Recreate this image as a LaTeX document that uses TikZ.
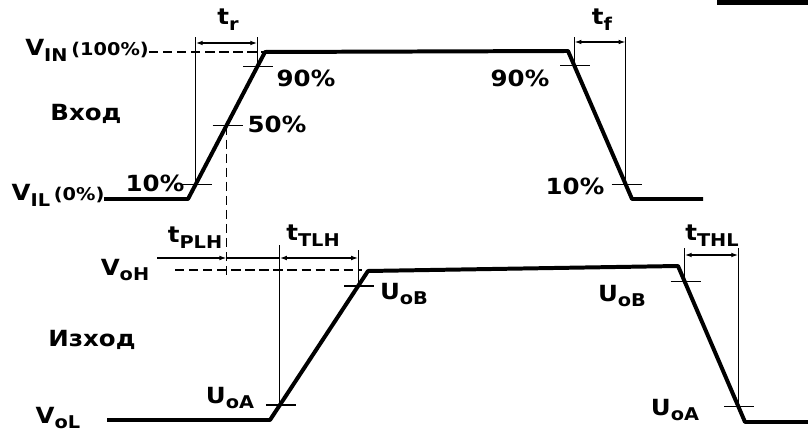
\documentclass[tikz,border=0pt]{standalone}
\usepackage{fontspec}
\setmainfont[FakeStretch=1.1]{DejaVu Sans}
\newfontfamily\bgfont[Script=Cyrillic,Language=Bulgarian,FakeStretch=1.1]{DejaVu Sans}
\usetikzlibrary{arrows.meta,calc}
\tikzset{
  wave/.style={line width=3.4pt,line join=round},
  thinline/.style={line width=1.1pt},
  dashline/.style={line width=1.1pt,dash pattern=on 8pt off 4pt},
  dimarrow/.style={line width=1.1pt,{Latex[length=6pt,width=4pt]}-{Latex[length=6pt,width=4pt]}},
  lbl/.style={font=\fontsize{19}{21}\selectfont\bfseries,inner sep=0pt}
}
\newcommand{\leveltick}[1]{\draw[thinline] ($(#1)+(-14,0)$) -- ($(#1)+(16,0)$);}
\newcommand{\lowsub}[1]{\raisebox{-5pt}{\fontsize{15}{15}\selectfont #1}}

\begin{document}
\begin{tikzpicture}[x=0.03cm,y=-0.03cm]
\useasboundingbox (0,0) rectangle (808,433);
\fill (717,0) rectangle (808,5);
% input pulse
\coordinate (i0) at (104,199);
\coordinate (i1) at (188,199);
\coordinate (i2) at (265,52);
\coordinate (i3) at (568,51);
\coordinate (i4) at (632,199);
\coordinate (i5) at (703,199);
\draw[wave] (i0) -- (i1) -- (i2) -- (i3) -- (i4) -- (i5);
\coordinate (in10) at ($(i1)!0.1!(i2)$);
\coordinate (in50) at ($(i1)!0.5!(i2)$);
\coordinate (in90) at ($(i1)!0.9!(i2)$);
\coordinate (fa90) at ($(i3)!0.1!(i4)$);
\coordinate (fa10) at ($(i3)!0.9!(i4)$);
\foreach \p in {in10,in50,in90,fa90,fa10} {\leveltick{\p}}
% output pulse
\coordinate (o0) at (107,420);
\coordinate (o1) at (270,420);
\coordinate (o2) at (368,271);
\coordinate (o3) at (678,266);
\coordinate (o4) at (745,422);
\coordinate (o5) at (808,422);
\draw[wave] (o0) -- (o1) -- (o2) -- (o3) -- (o4) -- (o5);
\coordinate (oA) at ($(o1)!0.1!(o2)$);
\coordinate (oB) at ($(o1)!0.9!(o2)$);
\coordinate (fB) at ($(o3)!0.1!(o4)$);
\coordinate (fA) at ($(o3)!0.9!(o4)$);
\foreach \p in {oA,oB,fB,fA} {\leveltick{\p}}
% level labels
\node[lbl] (vin) at (87,50) {V\lowsub{IN}\,{\fontsize{15}{15}\selectfont(100\%)}};
\node[lbl] (vil) at (58,195) {V\lowsub{IL}\,{\fontsize{15}{15}\selectfont(0\%)}};
\node[lbl] (voh) at (125,270) {V\lowsub{oH}};
\node[lbl] (vol) at (58,418) {V\lowsub{oL}};
\node[lbl] (vhod) at (86,114) {\bgfont Вход};
\node[lbl] (izhod) at (92,340) {\bgfont Изход};
\node[lbl] (p10) at (155,183) {10\%};
\node[lbl] (p50) at (277,124) {50\%};
\node[lbl] (p90) at (306,78) {90\%};
\node[lbl] (q90) at (520,78) {90\%};
\node[lbl] (q10) at (575,186) {10\%};
\node[lbl] (uoa) at (230,398) {U\lowsub{oA}};
\node[lbl] (uob) at (404,294) {U\lowsub{oB}};
\node[lbl] (vob) at (622,296) {U\lowsub{oB}};
\node[lbl] (voa) at (675,410) {U\lowsub{oA}};
% dashed levels
\draw[dashline] (vin.east |- i2) -- (i2);
\draw[dashline] (in50) -- (in50 |- 0,278);
\coordinate (vohstart) at (175,270);
\draw[dashline] (vohstart) -- ($(o2)+(-6,-1)$);
% rise and fall times, input
\draw[thinline] (in10) -- (in10 |- 0,37);
\draw[thinline] (in90) -- (in90 |- 0,37);
\draw[dimarrow] (in10 |- 0,43) -- (in90 |- 0,43);
\node[lbl] (tr) at (228,20) {t\lowsub{r}};
\draw[thinline] (fa90) -- (fa90 |- 0,37);
\draw[thinline] (fa10) -- (fa10 |- 0,37);
\draw[dimarrow] (fa90 |- 0,42) -- (fa10 |- 0,42);
\node[lbl] (tf) at (602,20) {t\lowsub{f}};
% delay and transition times, output
\coordinate (plhstart) at (157,258);
\draw[thinline,-{Latex[length=6pt,width=4pt]}] (plhstart) -- (in50 |- plhstart);
\draw[thinline] (in50 |- plhstart) -- (oA |- plhstart);
\node[lbl] (tplh) at (195,238) {t\lowsub{PLH}};
\draw[thinline] (oA) -- (oA |- 0,245);
\draw[thinline] (oB) -- (oB |- 0,250);
\draw[dimarrow] (oA |- 0,258) -- (oB |- 0,258);
\node[lbl] (ttlh) at (313,236) {t\lowsub{TLH}};
\draw[thinline] (fB) -- (fB |- 0,248);
\draw[thinline] (fA) -- (fA |- 0,248);
\draw[dimarrow] (fB |- 0,255) -- (fA |- 0,255);
\node[lbl] (tthl) at (712,236) {t\lowsub{THL}};
\end{tikzpicture}
\end{document}
